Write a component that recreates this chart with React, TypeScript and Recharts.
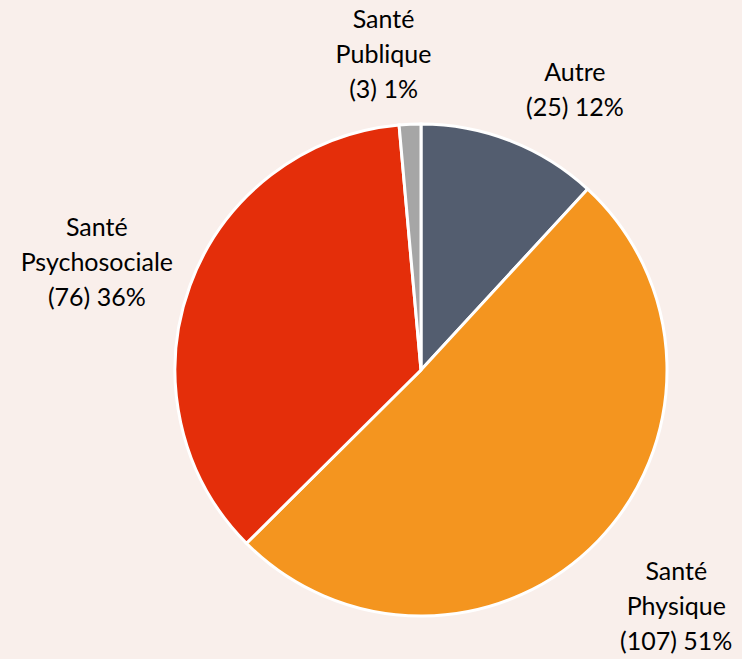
import React from "react";
import { PieChart, Pie, Cell } from "recharts";

const categories = ["Autre", "Santé Physique", "Santé Psychosociale", "Santé Publique"];
const counts = [25, 107, 76, 3];
const colors = ["#535D6F", "#F4951F", "#E42E0A", "#A6A6A6"];

const data = categories.map((name, i) => ({ name, value: counts[i] }));

const FONT = "Lato, 'Open Sans', sans-serif";
const FS = 25;
const LH = 35;

const RAD = Math.PI / 180;
const clamp = (v: number) => Math.max(-1, Math.min(1, v));

let ctx: CanvasRenderingContext2D | null = null;
const measure = (s: string) => {
  try {
    if (!ctx) ctx = document.createElement("canvas").getContext("2d");
    if (ctx) {
      ctx.font = `${FS}px Lato`;
      return ctx.measureText(s).width;
    }
  } catch (e) {}
  return s.length * FS * 0.5;
};

const renderLabel = (props: any) => {
  const { cx, cy, midAngle, outerRadius, name, value, percent } = props;
  const lines: string[] = [...String(name).split(" "), `(${value}) ${Math.round(percent * 100)}%`];
  const cos = Math.cos(-midAngle * RAD);
  const sin = Math.sin(-midAngle * RAD);
  const r = outerRadius + 18;
  const ax = cx + r * cos;
  const ay = cy + r * sin;
  const hw = Math.max(...lines.map(measure)) / 2;
  const hh = (lines.length * LH) / 2;
  const sx = clamp(cos * 12);
  const sy = clamp(sin * Math.abs(sin) * 2.8);
  const bx = ax + sx * hw + (cos > 0 ? 9 : 0);
  const by = ay + sy * hh;
  const firstY = by - ((lines.length - 1) / 2) * LH + FS * 0.36;
  return (
    <text x={bx} y={firstY} textAnchor="middle" fill="#000" fontSize={FS} fontFamily={FONT}>
      {lines.map((l, i) => (
        <tspan key={i} x={bx} y={firstY + i * LH}>
          {l}
        </tspan>
      ))}
    </text>
  );
};

export default function App() {
  return (
    <div style={{ width: 742, height: 659, background: "#F9EFEB", position: "relative", overflow: "hidden" }}>
      <style>{"body{margin:0}"}</style>
      <PieChart width={742} height={659} margin={{ top: 0, right: 0, bottom: 0, left: 0 }}>
        <Pie
          data={data}
          dataKey="value"
          nameKey="name"
          cx={421}
          cy={370}
          outerRadius={246}
          startAngle={90}
          endAngle={-270}
          stroke="#FFFFFF"
          strokeWidth={3}
          label={renderLabel}
          labelLine={false}
          isAnimationActive={false}
        >
          {data.map((d, i) => (
            <Cell key={d.name} fill={colors[i]} />
          ))}
        </Pie>
      </PieChart>
    </div>
  );
}
